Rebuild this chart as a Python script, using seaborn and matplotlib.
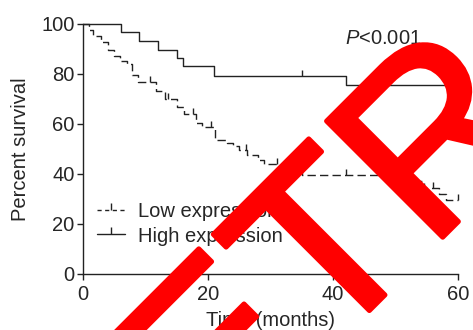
import numpy as np
import pandas as pd
import seaborn as sns
import matplotlib
matplotlib.use("Agg")
import matplotlib.pyplot as plt
import matplotlib.patheffects as pe
from matplotlib.lines import Line2D

# Kaplan-Meier step data (months, percent survival)
high_time = [0, 6.0, 9.0, 12.0, 15.0, 16.0, 21.0, 42.0, 60.0]
high_surv = [100, 96.7, 93.2, 89.6, 86.3, 83.0, 79.3, 75.6, 75.6]
high_cens = [35.0]

low_time = [0, 1.0, 1.6, 2.8, 4.0, 4.9, 5.9, 7.0, 7.9, 8.8, 11.7, 13.1, 15.0, 16.1,
            18.1, 19.0, 21.1, 23.0, 24.0, 25.0, 26.2, 28.0, 28.9, 32.5, 35.0, 50.0,
            54.5, 57.0, 58.0, 60.0]
low_surv = [100, 97.6, 95.2, 92.9, 89.6, 87.0, 85.3, 84.0, 79.6, 76.9, 73.2, 69.9, 66.9, 63.9,
            60.5, 58.9, 53.6, 52.5, 51.2, 49.6, 47.6, 45.6, 44.0, 42.0, 39.6, 37.0,
            34.3, 32.0, 29.6, 29.6]
low_cens = [10.7, 13.6, 17.6, 20.5, 26.0, 31.0, 42.0, 56.0, 60.0]

x_ticks = [0, 20, 40, 60]
y_ticks = [0, 20, 40, 60, 80, 100]


def surv_at(times, surv, t):
    # value of the step function at time t
    i = np.searchsorted(times, t, side="right") - 1
    return np.asarray(surv)[i]


sns.set_style("ticks")
plt.rcParams["font.family"] = ["Liberation Sans", "DejaVu Sans"]
plt.rcParams["mathtext.fontset"] = "custom"
plt.rcParams["mathtext.rm"] = "Liberation Sans"
plt.rcParams["mathtext.it"] = "Liberation Sans:italic"

fs = 14.5
fig = plt.figure(figsize=(4.73, 3.30), dpi=100)
ax = fig.add_axes([0.1755, 0.1697, 0.7928, 0.7576])

ink = "#222222"
dash = (0, (6, 3))

sns.lineplot(x=low_time, y=low_surv, drawstyle="steps-post", color=ink, lw=1.0,
             linestyle=dash, estimator=None, sort=False, ax=ax, clip_on=False)
sns.lineplot(x=high_time, y=high_surv, drawstyle="steps-post", color=ink, lw=1.0,
             estimator=None, sort=False, ax=ax, clip_on=False)

low_cy = [surv_at(low_time, low_surv, t) for t in low_cens]
high_cy = [surv_at(high_time, high_surv, t) for t in high_cens]
sns.scatterplot(x=low_cens, y=low_cy, marker=2, s=20, color=ink, linewidth=1.0, ax=ax,
                clip_on=False)
sns.scatterplot(x=high_cens, y=high_cy, marker=2, s=20, color=ink, linewidth=1.0, ax=ax,
                clip_on=False)

ax.set_xlim(0, 60)
ax.set_ylim(0, 100)
ax.set_xticks(x_ticks)
ax.set_yticks(y_ticks)
sns.despine(ax=ax)
for s in ["left", "bottom"]:
    ax.spines[s].set_linewidth(1.0)
    ax.spines[s].set_color(ink)
ax.tick_params(axis="both", labelsize=fs, width=1.0, length=4.5, color=ink)
ax.tick_params(axis="x", pad=3.5)
ax.tick_params(axis="y", pad=1.5)

ax.set_xlabel("Time (months)", fontsize=fs, labelpad=5)
ax.set_ylabel("Percent survival", fontsize=fs, labelpad=8)

ax.text(41.9, 94.2, r"$\mathit{P}$<0.001", fontsize=fs, ha="left", va="center")

handles = [
    Line2D([], [], color=ink, lw=1.0, linestyle=(0, (3, 2.5)), marker=2, markersize=5),
    Line2D([], [], color=ink, lw=1.0, marker=2, markersize=5),
]
ax.legend(handles, ["Low expression", "High expression"], loc="center left",
          bbox_to_anchor=(0.037, 0.2), frameon=False, fontsize=fs, borderpad=0,
          borderaxespad=0, handlelength=1.4, handletextpad=0.65, labelspacing=0.25,
          numpoints=1)

# red watermark overlay
fig.text(91 / 473, 1 - 589 / 330, "RETRACTED", color="#ff0000", fontsize=172,
         rotation=45, rotation_mode="anchor", ha="left", va="baseline", zorder=10,
         path_effects=[pe.withStroke(linewidth=3.5, foreground="#ff0000")])

fig.savefig("out.png", dpi=100)
